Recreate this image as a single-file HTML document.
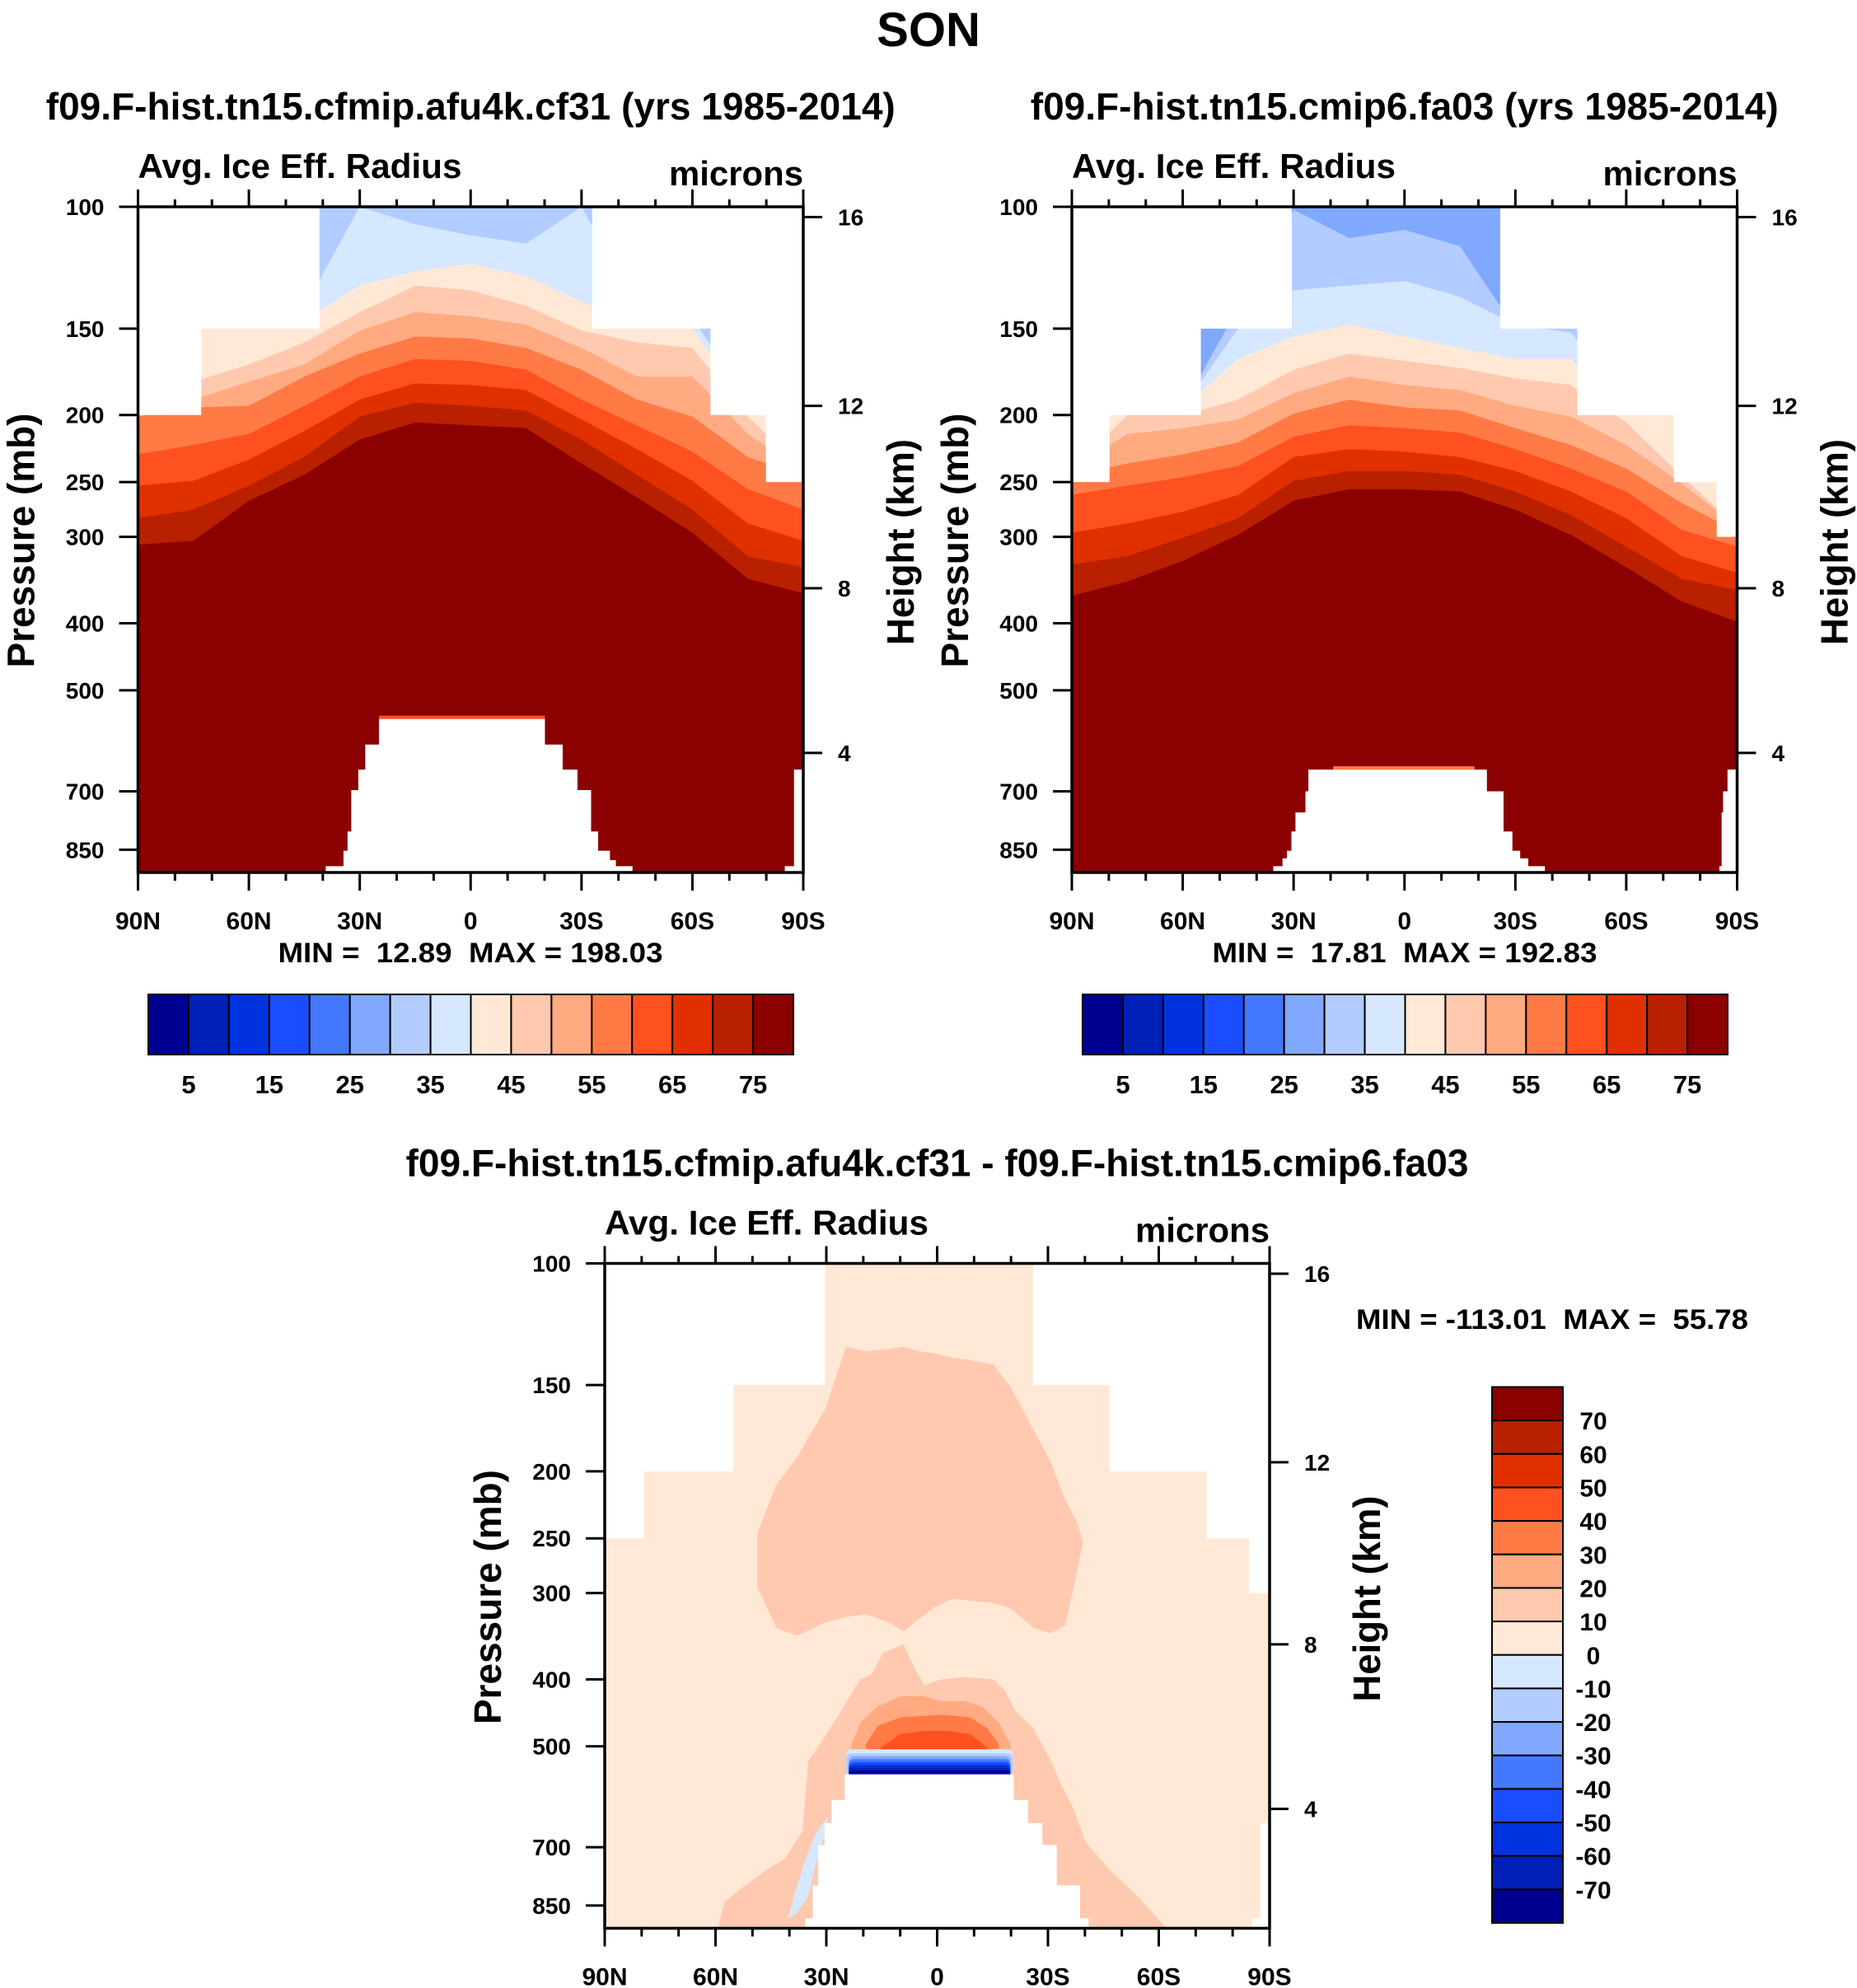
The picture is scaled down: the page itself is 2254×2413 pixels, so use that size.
<!DOCTYPE html>
<html><head><meta charset="utf-8"><title>SON Avg Ice Eff Radius</title>
<style>html,body{margin:0;padding:0;background:#fff;}svg{display:block;}text{font-family:"Liberation Sans",Arial,sans-serif;font-weight:bold;fill:#000;white-space:pre;}</style>
</head><body>
<svg id="fig" xmlns="http://www.w3.org/2000/svg" width="2254" height="2413" viewBox="0 0 2254 2413"></svg>
<script>
// ---------- palette & levels ----------
const colors = ['#000090','#0020b8','#0033e0','#1a4dff','#4479ff','#80a8ff','#b3ccff','#d6e8ff','#ffe9d6','#ffc9b0','#ffaa80','#ff7a45','#ff5020','#e03000','#b82000','#8b0000'];
const absLabels = ['5','15','25','35','45','55','65','75'];
const diffLabels = ['70','60','50','40','30','20','10','0','-10','-20','-30','-40','-50','-60','-70'];
const presTicks = [100,150,200,250,300,400,500,700,850];
const heightKm = ['16','12','8','4'];
const heightP = [103.5,194,356,616];
const latMajor = [90,60,30,0,-30,-60,-90];
const latLabels = ['90N','60N','30N','0','30S','60S','90S'];
const gridLat = [90,75,60,45,30,15,0,-15,-30,-45,-60,-75,-90];

// ---------- panel 1 (cf31) contour boundaries, hPa ----------
const p1Levels = [7,8,9,10,11,12,13,14,15];
const p1c35 = [140,140,140,140,100,106,110,113,100,140,145,190,200];
const p1c40 = [190,146,146,146,130,124,121,126,137,148,150,195,200];
const p1c45 = [195,179,169,157,142,130,132,139,151,157,160,201,240];
const p1c50 = [198,190,179,169,151,142,144,148,160,176,176,213,240];
const p1c55 = [201,195,194,176,163,154,155,160,172,190,201,230,245];
const p1c60 = [228,221,213,194,176,166,167,172,190,207,226,256,274];
const p1c65 = [253,249,232,211,190,180,181,184,203,224,249,287,304];
const p1c70 = [282,274,253,230,201,192,194,197,217,244,274,320,332];
const p1c75 = [308,304,266,244,217,205,207,209,235,263,296,345,362];
const p1MaskLat = [90,73,41,-33,-65,-80,-90];
const p1MaskP = [200,150,100,150,200,250];
const p1TopoP = [550,599,651,697,800,853,880,898];
const p1TopoN = [24.8,28.5,30.4,32.3,33.3,34.4,34.4,39.2];
const p1TopoS = [-20.1,-24.9,-28.9,-32.6,-34.5,-37.7,-39.3,-43.8];
const p1EdgeP = [651,898];
const p1EdgeLat = [-87.5,-85.0];

// ---------- panel 2 (fa03) ----------
const p2Levels = [6,7,8,9,10,11,12,13,14,15];
const p2c30 = [190,195,195,140,101,111,108,114,150,145,190,195,275];
const p2c35 = [190,195,195,150,132,130,128,135,148,152,190,195,275];
const p2c40 = [190,195,195,166,154,148,154,160,166,166,195,198,280];
const p2c45 = [240,200,200,190,172,163,167,171,177,181,205,245,290];
const p2c50 = [240,213,209,203,186,176,181,184,194,201,221,251,290];
const p2c55 = [245,235,228,219,199,190,195,197,209,221,239,268,295];
const p2c60 = [261,253,246,237,215,207,209,212,224,239,258,293,310];
const p2c65 = [296,287,276,261,230,224,226,230,241,258,282,320,338];
const p2c70 = [329,320,301,282,249,241,241,244,258,279,310,345,358];
const p2c75 = [365,348,325,298,266,256,256,258,274,298,332,372,398];
const p2MaskLat = [90,79.9,55.2,30.6,-26.0,-46.9,-73.0,-84.6,-90];
const p2MaskP = [250,200,150,100,150,200,250,300];
const p2TopoP = [651,700,751,800,853,875,898];
const p2TopoN = [26.0,26.8,29.5,30.6,31.8,33.0,35.5];
const p2TopoS = [-22.3,-26.8,-26.8,-29.2,-31.3,-33.5,-38.0];
const p2EdgeP = [651,700,751,898];
const p2EdgeLat = [-87.4,-86.2,-85.8,-85.2];

// ---------- panel 3 (difference) ----------
const dMaskLat = [90,79.5,55.3,30.5,-26.1,-46.8,-73.1,-84.5,-90];
const dMaskP = [250,200,150,100,150,200,250,300];
const dTopoP = [549,598,646,695,795,887];
const dTopoN = [25.0,28.6,30.5,32.2,33.7,35.7];
const dTopoS = [-20.7,-24.6,-28.5,-32.4,-38.7,-41.0];
const dEdgeP = [646,887];
const dEdgeLat = [-87.6,-85.2];
const blobALat = [48.7,43.5,38.0,30.2,24.7,19.3,13.0,9.1,5.2,0.5,-4.2,-8.9,-15.2,-19.9,-26.1,-30.8,-34.7,-37.9,-39.4];
const blobATop = [246,209,191,162,132,134,133,132,134,135,137,138,140,151,174,194,220,237,252];
const blobABot = [294,337,346,331,325,322,331,341,328,314,306,308,310,316,337,343,334,279,255];
const blobBLat = [59.2,57.6,52.1,45.9,41.2,36.5,34.9,31.8,27.1,20.8,17.7,14.6,9.1,6.7,3.6,-1.1,-7.4,-15.2,-18.3,-21.4,-26.1,-30.8,-34.0,-37.1,-40.2,-46.5,-54.3,-62.1];
const blobBTop = [911,840,796,753,727,664,525,497,454,400,393,366,356,379,408,400,397,400,415,446,471,525,574,618,688,753,825,916];
const or20Lat = [23.2,20.8,16.1,9.9,3.6,-1.1,-7.4,-12.1,-16.7,-19.9];
const or20Top = [497,462,438,423,423,430,430,438,462,497];
const or30Lat = [19.3,16.1,9.9,-1.1,-8.9,-13.6,-16.7];
const or30Top = [497,467,454,450,454,471,497];
const or40Lat = [15.3,9.9,3.6,-2.7,-8.9,-13.6];
const or40Top = [502,480,475,475,480,502];
const orBottomP = 508;
const blueLatN = 24.6, blueLatS = -20.5;
const blueTopP = [505,512,517,522,527,532,537,542];
const blueColorIdx = [7,6,5,4,3,2,1,0];
const patchLat = [29.4,31.0,33.3,34.9,38.0,40.4,38.8,36.5,33.3];
const patchP = [629,688,753,825,872,887,825,753,675];

// ---------- helpers ----------
const NS='http://www.w3.org/2000/svg';
const svg=document.getElementById('fig');
function mk(tag,parent,attrs){const e=document.createElementNS(NS,tag);for(const k in attrs)e.setAttribute(k,attrs[k]);(parent||svg).appendChild(e);return e;}
const PBOT=917;
function xOf(P,lat){return P.x0+(90-lat)/180*P.w;}
function yOf(P,p){return P.y0+P.h*Math.log10(p/100)/Math.log10(PBOT/100);}
function txt(parent,x,y,s,size,anchor,len){const t=mk('text',parent,{x:x,y:y,'font-size':size,'text-anchor':anchor||'start'});if(len){t.setAttribute('textLength',len);t.setAttribute('lengthAdjust','spacingAndGlyphs');}t.textContent=s;return t;}

function levelPoly(P,g,line,color){
  let pts=[];
  for(let i=0;i<gridLat.length;i++)pts.push(xOf(P,gridLat[i])+','+yOf(P,line[i]));
  pts.push(xOf(P,-90)+','+(P.y0+P.h+2));pts.push(xOf(P,90)+','+(P.y0+P.h+2));
  return mk('polygon',g,{points:pts.join(' '),fill:color});
}
function topMask(P,g,lats,ps){
  for(let i=0;i<ps.length;i++){
    const xa=xOf(P,lats[i]),xb=xOf(P,lats[i+1]);
    const r=mk('rect',g,{x:xa-0.5,y:P.y0-2,width:xb-xa+1,height:yOf(P,ps[i])-P.y0+2,fill:'#fff'});
    
    
  }
}
function topo(P,g,ps,ns,ss){
  const n=ps.length;
  let pts=[];
  for(let i=0;i<n;i++){const pn=i+1<n?ps[i+1]:PBOT+5;pts.push(xOf(P,ns[i])+','+yOf(P,ps[i]));pts.push(xOf(P,ns[i])+','+yOf(P,pn));}
  for(let i=n-1;i>=0;i--){const pn=i+1<n?ps[i+1]:PBOT+5;pts.push(xOf(P,ss[i])+','+yOf(P,pn));pts.push(xOf(P,ss[i])+','+yOf(P,ps[i]));}
  const e=mk('polygon',g,{points:pts.join(' '),fill:'#fff'});
  
  
}
function edge(P,g,ps,lats){
  for(let i=0;i<ps.length;i++){
    const xa=xOf(P,lats[i]);
    const r=mk('rect',g,{x:xa,y:yOf(P,ps[i]),width:P.x0+P.w-xa+2,height:P.y0+P.h-yOf(P,ps[i])+2,fill:'#fff'});
    
    
  }
}
function axes(P,g,title,minmax,mmx,mmy,mmlen,titleLen){
  const fr=mk('rect',g,{x:P.x0,y:P.y0,width:P.w,height:P.h,fill:'none',stroke:'#000','stroke-width':3.5});
  
  
  for(let lat=90;lat>=-90;lat-=10){
    const x=xOf(P,lat),maj=(lat%30===0);
    mk('line',g,{x1:x,x2:x,y1:P.y0,y2:P.y0-(maj?21:9),stroke:'#000','stroke-width':3});
    mk('line',g,{x1:x,x2:x,y1:P.y0+P.h,y2:P.y0+P.h+(maj?22:10),stroke:'#000','stroke-width':3});
  }
  for(let i=0;i<latMajor.length;i++){
    const t=txt(g,xOf(P,latMajor[i]),P.y0+P.h+69,latLabels[i],30,'middle');
    
    
  }
  for(const p of presTicks){
    const y=yOf(P,p);
    mk('line',g,{x1:P.x0,x2:P.x0-23,y1:y,y2:y,stroke:'#000','stroke-width':3});
    const t=txt(g,P.x0-41,y+10,String(p),28,'end');
    
    
  }
  for(let i=0;i<heightP.length;i++){
    const y=yOf(P,heightP[i]);
    mk('line',g,{x1:P.x0+P.w,x2:P.x0+P.w+23,y1:y,y2:y,stroke:'#000','stroke-width':3});
    const t=txt(g,P.x0+P.w+42,y+10,heightKm[i],28,'start');
    
    
  }
  const yl=txt(g,0,0,'Pressure (mb)',46,'middle',309);
  yl.setAttribute('transform','translate('+(P.x0-126)+','+(P.y0+405)+') rotate(-90)');
  
  
  const yr=txt(g,0,0,'Height (km)',46,'middle',250);
  yr.setAttribute('transform','translate('+(P.x0+P.w+134)+','+(P.y0+407)+') rotate(-90)');
  
  
  const a=txt(g,P.x0,P.y0-35,'Avg. Ice Eff. Radius',42,'start',393);
  
  
  const m=txt(g,P.x0+P.w,P.y0-26,'microns',42,'end',163);
  
  
  const tt=txt(g,P.x0+P.w/2,P.y0-106,title,46,'middle',titleLen);
  
  
  const mm=txt(g,mmx,mmy,minmax,34,'middle',mmlen);
  
  
}
function clip(P,id){const d=mk('defs');const c=mk('clipPath',d,{id:id});mk('rect',c,{x:P.x0,y:P.y0,width:P.w,height:P.h});}
function hbar(x0,y0,w,h,parent){
  const bw=w/16;
  for(let i=0;i<16;i++){
    const r=mk('rect',parent,{x:x0+i*bw,y:y0,width:bw,height:h,fill:colors[i],stroke:'#000','stroke-width':2});
    
    
  }
  for(let k=0;k<absLabels.length;k++){
    const t=txt(parent,x0+(2*k+1)*bw,y0+h+47,absLabels[k],31,'middle');
    
    
  }
}

// ---------- title ----------
const son=txt(svg,1127,56,'SON',58,'middle');



// ---------- panel 1 ----------
const P1={x0:167.5,y0:251,w:807.5,h:808};
clip(P1,'c1');
const g1=mk('g',svg,{});


const f1=mk('g',g1,{'clip-path':'url(#c1)'});


const bg1=mk('rect',f1,{x:P1.x0,y:P1.y0,width:P1.w,height:P1.h,fill:colors[6]});

const p1Lines=[p1c35,p1c40,p1c45,p1c50,p1c55,p1c60,p1c65,p1c70,p1c75];
for(let i=0;i<p1Lines.length;i++){
  const e=levelPoly(P1,f1,p1Lines[i],colors[p1Levels[i]]);
  
  
}
topMask(P1,f1,p1MaskLat,p1MaskP);
const fz1=mk('line',f1,{x1:xOf(P1,p1TopoN[0]),x2:xOf(P1,p1TopoS[0]),y1:yOf(P1,p1TopoP[0])-2,y2:yOf(P1,p1TopoP[0])-2,stroke:'#ff5020','stroke-width':4});

topo(P1,f1,p1TopoP,p1TopoN,p1TopoS);
edge(P1,f1,p1EdgeP,p1EdgeLat);
axes(P1,g1,'f09.F-hist.tn15.cfmip.afu4k.cf31 (yrs 1985-2014)','MIN =  12.89  MAX = 198.03',571,1168,467,1031);
const cb1=mk('g',svg,{});


hbar(180,1207,783,73,cb1);

// ---------- panel 2 ----------
const P2={x0:1301,y0:251,w:807.5,h:808};
clip(P2,'c2');
const g2=mk('g',svg,{});


const f2=mk('g',g2,{'clip-path':'url(#c2)'});


const bg2=mk('rect',f2,{x:P2.x0,y:P2.y0,width:P2.w,height:P2.h,fill:colors[5]});

const p2Lines=[p2c30,p2c35,p2c40,p2c45,p2c50,p2c55,p2c60,p2c65,p2c70,p2c75];
for(let i=0;i<p2Lines.length;i++){
  const e=levelPoly(P2,f2,p2Lines[i],colors[p2Levels[i]]);
  
  
}
topMask(P2,f2,p2MaskLat,p2MaskP);
const fz2=mk('line',f2,{x1:xOf(P2,p2TopoN[0])+30,x2:xOf(P2,p2TopoS[0])-15,y1:yOf(P2,p2TopoP[0])-2,y2:yOf(P2,p2TopoP[0])-2,stroke:'#ff7a45','stroke-width':4});

topo(P2,f2,p2TopoP,p2TopoN,p2TopoS);
edge(P2,f2,p2EdgeP,p2EdgeLat);
axes(P2,g2,'f09.F-hist.tn15.cmip6.fa03 (yrs 1985-2014)','MIN =  17.81  MAX = 192.83',1705,1168,467,908);
const cb2=mk('g',svg,{});


hbar(1314,1207,783,73,cb2);

// ---------- panel 3 (difference) ----------
const P3={x0:734,y0:1533.5,w:807,h:807};
clip(P3,'c3');
const g3=mk('g',svg,{});


const f3=mk('g',g3,{'clip-path':'url(#c3)'});


const bg3=mk('rect',f3,{x:P3.x0,y:P3.y0,width:P3.w,height:P3.h,fill:colors[8]});

function closedBlob(lats,tops,bots,color){
  let pts=[];
  for(let i=0;i<lats.length;i++)pts.push(xOf(P3,lats[i])+','+yOf(P3,tops[i]));
  for(let i=lats.length-1;i>=0;i--)pts.push(xOf(P3,lats[i])+','+(bots?yOf(P3,bots[i]):yOf(P3,PBOT)+4));
  return mk('polygon',f3,{points:pts.join(' '),fill:color});
}
const bA=closedBlob(blobALat,blobATop,blobABot,colors[9]);


const bB=closedBlob(blobBLat,blobBTop,null,colors[9]);


const b20=closedBlob(or20Lat,or20Top,or20Lat.map(()=>orBottomP),colors[10]);


const b30=closedBlob(or30Lat,or30Top,or30Lat.map(()=>orBottomP),colors[11]);


const b40=closedBlob(or40Lat,or40Top,or40Lat.map(()=>orBottomP),colors[12]);


for(let i=0;i<blueTopP.length;i++){
  const xa=xOf(P3,blueLatN)+(i<2?0:3),xb=xOf(P3,blueLatS)-(i<2?0:3);
  const r=mk('rect',f3,{x:xa,y:yOf(P3,blueTopP[i]),width:xb-xa,height:yOf(P3,549)-yOf(P3,blueTopP[i])+2,fill:colors[blueColorIdx[i]],rx:6});
  
  
}
const ptc=mk('polygon',f3,{points:patchLat.map((l,i)=>xOf(P3,l)+','+yOf(P3,patchP[i])).join(' '),fill:colors[7]});


topMask(P3,f3,dMaskLat,dMaskP);
topo(P3,f3,dTopoP,dTopoN,dTopoS);
edge(P3,f3,dEdgeP,dEdgeLat);
axes(P3,g3,'f09.F-hist.tn15.cfmip.afu4k.cf31 - f09.F-hist.tn15.cmip6.fa03','MIN = -113.01  MAX =  55.78',1884,1613,476,1290);
// vertical colorbar
const cb3=mk('g',svg,{});


const vbX=1811,vbY=1683.5,vbW=86,vbH=650.5,bh=vbH/16;
for(let i=0;i<16;i++){
  const r=mk('rect',cb3,{x:vbX,y:vbY+i*bh,width:vbW,height:bh,fill:colors[15-i],stroke:'#000','stroke-width':2});
  
  
}
for(let k=0;k<diffLabels.length;k++){
  const t=txt(cb3,1934,vbY+(k+1)*bh+11,diffLabels[k],30,'middle');
  
  
}
</script>
</body></html>
